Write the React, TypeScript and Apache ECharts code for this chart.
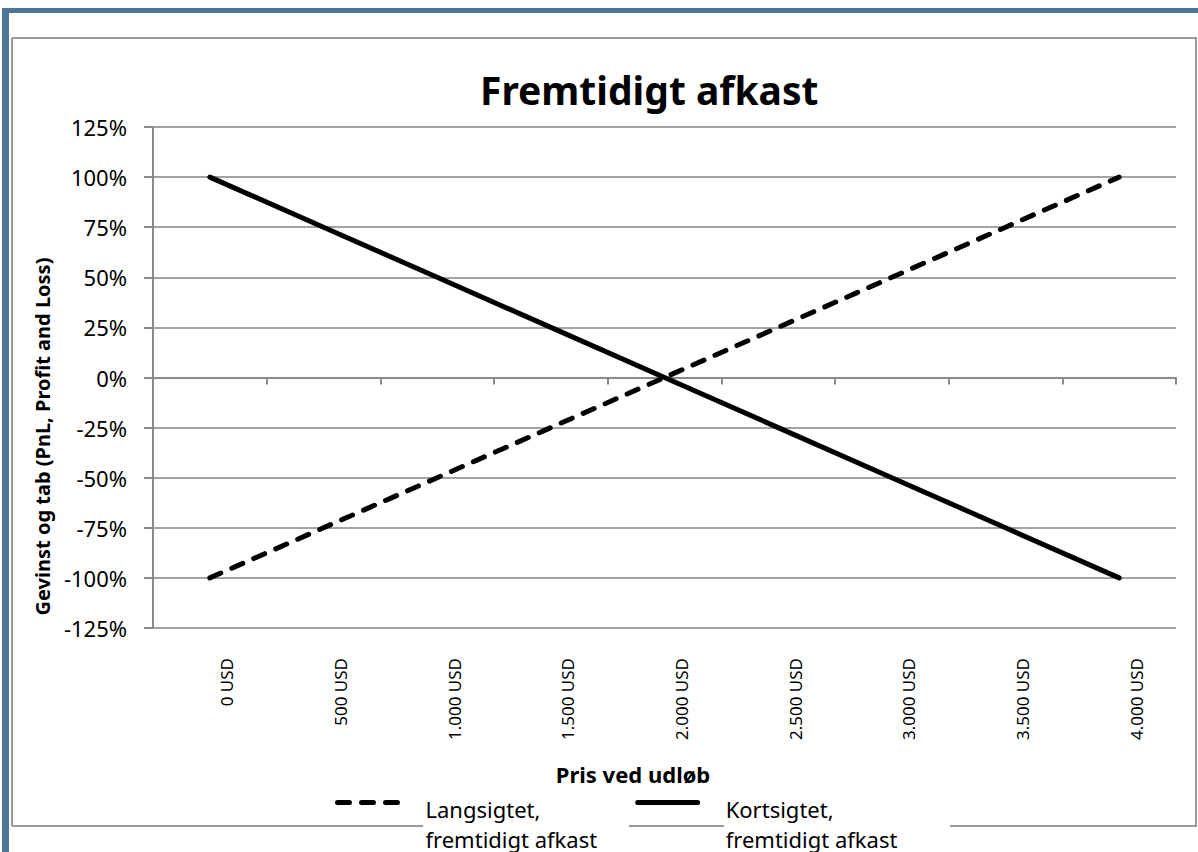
import React, { useEffect, useRef } from "react";
import * as echarts from "echarts";

const priceLabels = [
  "0 USD",
  "500 USD",
  "1.000 USD",
  "1.500 USD",
  "2.000 USD",
  "2.500 USD",
  "3.000 USD",
  "3.500 USD",
  "4.000 USD",
];
const longReturns = [-100, -75, -50, -25, 0, 25, 50, 75, 100];
const shortReturns = [100, 75, 50, 25, 0, -25, -50, -75, -100];
const seriesNames = ["Langsigtet,\nfremtidigt afkast", "Kortsigtet,\nfremtidigt afkast"];
const titleText = "Fremtidigt afkast";
const yAxisTitle = "Gevinst og tab (PnL, Profit and Loss)";
const xAxisTitle = "Pris ved udløb";
const yMin = -125;
const yMax = 125;
const yStep = 25;

const FONT = "'Noto Sans', 'Open Sans', sans-serif";
const GRID_COLOR = "#a3a3a3";
const AXIS_COLOR = "#8a8a8a";
const FRAME_BLUE = "#4e7696";
const BORDER = "#9a9a9a";

export default function App() {
  const ref = useRef<HTMLDivElement>(null);
  useEffect(() => {
    if (!ref.current) return;
    const chart = echarts.init(ref.current, null, { renderer: "svg" });
    const option: any = {
      animation: false,
      backgroundColor: "#ffffff",
      textStyle: { fontFamily: FONT },
      title: {
        text: titleText,
        left: 480,
        top: 70,
        padding: 0,
        textStyle: { fontSize: 39, fontWeight: "bold", color: "#000", fontFamily: FONT },
      },
      grid: { left: 153, right: 22, top: 127, bottom: 224, containLabel: false },
      legend: {
        left: 335,
        top: 772,
        padding: 0,
        itemWidth: 60,
        itemHeight: 14,
        itemGap: 38,
        itemStyle: { color: "transparent", borderColor: "transparent", borderWidth: 0 },
        data: [
          {
            name: seriesNames[0],
            lineStyle: { color: "#000", width: 5, type: [12, 12], cap: "round" },
          },
          {
            name: seriesNames[1],
            lineStyle: { color: "#000", width: 5, type: "solid", cap: "round" },
          },
        ],
        formatter: (name: string) => {
          const parts = name.split("\n");
          return `{p| }\n{t|${parts[0]}}\n{t|${parts[1]}}`;
        },
        textStyle: {
          color: "#000",
          fontFamily: FONT,
          rich: {
            p: { fontSize: 1, lineHeight: 42 },
            t: {
              fontSize: 22,
              lineHeight: 30,
              color: "#000",
              fontFamily: FONT,
              padding: [0, 0, 0, 23],
            },
          },
        },
      },
      xAxis: [
        {
          type: "category",
          data: priceLabels,
          boundaryGap: true,
          position: "bottom",
          axisLine: { show: true, onZero: true, lineStyle: { color: AXIS_COLOR, width: 2 } },
          axisTick: { show: true, length: 7, lineStyle: { color: AXIS_COLOR, width: 2 } },
          axisLabel: { show: false },
          splitLine: { show: false },
        },
        {
          type: "category",
          data: priceLabels,
          boundaryGap: true,
          position: "bottom",
          name: xAxisTitle,
          nameLocation: "middle",
          nameGap: 135,
          nameTextStyle: {
            fontSize: 22,
            fontWeight: "bold",
            color: "#000",
            fontFamily: FONT,
            padding: [0, 63, 0, 0],
          },
          axisLine: { show: false, onZero: false },
          axisTick: { show: false },
          splitLine: { show: false },
          axisLabel: {
            show: true,
            rotate: 90,
            margin: 30,
            fontSize: 17,
            lineHeight: 34,
            verticalAlign: "top",
            color: "#000",
            fontFamily: FONT,
            interval: 0,
          },
        },
      ],
      yAxis: {
        type: "value",
        min: yMin,
        max: yMax,
        interval: yStep,
        name: yAxisTitle,
        nameLocation: "middle",
        nameGap: 71,
        nameTextStyle: {
          fontSize: 20,
          fontWeight: "bold",
          color: "#000",
          fontFamily: FONT,
          padding: [0, 118, 0, 0],
        },
        axisLine: { show: true, lineStyle: { color: AXIS_COLOR, width: 2 } },
        axisTick: { show: true, length: 9, lineStyle: { color: AXIS_COLOR, width: 2 } },
        axisLabel: {
          formatter: (v: number) => `${v}%`,
          fontSize: 22,
          color: "#000",
          margin: 26,
          fontFamily: FONT,
        },
        splitLine: { show: true, lineStyle: { color: GRID_COLOR, width: 2 } },
      },
      series: [
        {
          name: seriesNames[0],
          type: "line",
          xAxisIndex: 0,
          data: longReturns,
          symbol: "none",
          lineStyle: { color: "#000", width: 5, type: [12, 12], cap: "round" },
          itemStyle: { color: "#000" },
        },
        {
          name: seriesNames[1],
          type: "line",
          xAxisIndex: 0,
          data: shortReturns,
          symbol: "none",
          lineStyle: { color: "#000", width: 5, type: "solid", cap: "round" },
          itemStyle: { color: "#000" },
        },
      ],
      graphic: [
        { type: "rect", z: 0, shape: { x: 2, y: 8, width: 7, height: 844 }, style: { fill: FRAME_BLUE } },
        { type: "rect", z: 0, shape: { x: 2, y: 8, width: 1196, height: 5 }, style: { fill: FRAME_BLUE } },
        { type: "line", z: 0, shape: { x1: 12, y1: 38, x2: 1197, y2: 38 }, style: { stroke: BORDER, lineWidth: 2 } },
        { type: "line", z: 0, shape: { x1: 12, y1: 38, x2: 12, y2: 826 }, style: { stroke: BORDER, lineWidth: 2 } },
        { type: "line", z: 0, shape: { x1: 1196, y1: 38, x2: 1196, y2: 826 }, style: { stroke: BORDER, lineWidth: 2 } },
        { type: "line", z: 0, shape: { x1: 12, y1: 826, x2: 423, y2: 826 }, style: { stroke: BORDER, lineWidth: 2 } },
        { type: "line", z: 0, shape: { x1: 629, y1: 826, x2: 724, y2: 826 }, style: { stroke: BORDER, lineWidth: 2 } },
        { type: "line", z: 0, shape: { x1: 950, y1: 826, x2: 1197, y2: 826 }, style: { stroke: BORDER, lineWidth: 2 } },
      ],
    };
    chart.setOption(option);
    return () => chart.dispose();
  }, []);
  return (
    <div
      ref={ref}
      style={{ position: "fixed", left: 0, top: 0, width: 1198, height: 852, background: "#fff" }}
    />
  );
}
